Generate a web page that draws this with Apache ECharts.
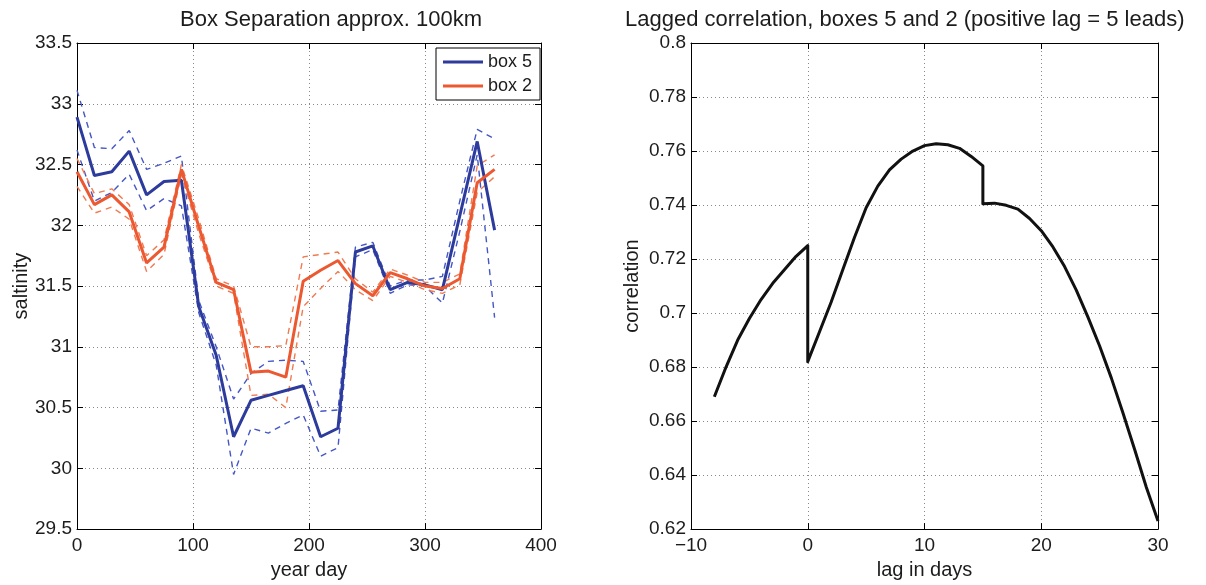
<!DOCTYPE html>
<html>
<head>
<meta charset="utf-8">
<script src="https://cdn.jsdelivr.net/npm/echarts@6/dist/echarts.min.js"></script>
<style>
  html, body { margin: 0; padding: 0; background: #fff; }
  #chart { width: 1206px; height: 585px; }
</style>
</head>
<body>
<div id="chart"></div>
<script>
// Year day of each salinity sample (15-day spacing)
const yearDays = [0, 15, 30, 45, 60, 75, 90, 105, 120, 135, 150, 165, 180,
                  195, 210, 225, 240, 255, 270, 285, 300, 315, 330, 345, 360];

// Box 5 salinity: mean and upper / lower bounds
const box5   = [32.89, 32.41, 32.44, 32.61, 32.25, 32.36, 32.37, 31.33, 30.93, 30.26, 30.56, 30.60, 30.64,
                30.68, 30.26, 30.33, 31.78, 31.83, 31.47, 31.53, 31.51, 31.47, 32.08, 32.69, 31.96];
const box5Hi = [33.11, 32.64, 32.63, 32.78, 32.46, 32.51, 32.57, 31.38, 31.00, 30.57, 30.78, 30.88, 30.89,
                30.88, 30.47, 30.48, 31.82, 31.86, 31.50, 31.55, 31.55, 31.58, 32.20, 32.79, 32.71];
const box5Lo = [32.62, 32.20, 32.27, 32.42, 32.12, 32.22, 32.16, 31.28, 30.85, 29.95, 30.33, 30.29, 30.37,
                30.44, 30.10, 30.17, 31.74, 31.80, 31.44, 31.51, 31.50, 31.36, 31.95, 32.58, 31.24];

// Box 2 salinity: mean and upper / lower bounds
const box2   = [32.44, 32.17, 32.25, 32.11, 31.69, 31.82, 32.46, 31.99, 31.53, 31.47, 30.79, 30.80, 30.75,
                31.54, 31.63, 31.71, 31.52, 31.42, 31.61, 31.56, 31.50, 31.48, 31.56, 32.35, 32.46];
const box2Hi = [32.55, 32.26, 32.30, 32.17, 31.75, 31.88, 32.50, 32.05, 31.56, 31.50, 31.00, 31.00, 31.01,
                31.74, 31.76, 31.78, 31.56, 31.45, 31.64, 31.59, 31.53, 31.53, 31.60, 32.49, 32.58];
const box2Lo = [32.32, 32.10, 32.15, 32.05, 31.62, 31.76, 32.42, 31.93, 31.50, 31.44, 30.60, 30.61, 30.50,
                31.33, 31.48, 31.62, 31.47, 31.38, 31.58, 31.53, 31.47, 31.44, 31.51, 32.27, 32.40];

// Lagged correlation between boxes 5 and 2 (repeated lags mark the jumps)
const lagDays = [-8, -7, -6, -5, -4, -3, -2, -1, 0,
                 0, 1, 2, 3, 4, 5, 6, 7, 8, 9, 10, 11, 12, 13, 14, 15,
                 15, 16, 17, 18, 19, 20, 21, 22, 23, 24, 25, 26, 27, 28, 29, 30];
const lagCorr = [0.669, 0.680, 0.690, 0.698, 0.705, 0.711, 0.716, 0.721, 0.725,
                 0.682, 0.693, 0.704, 0.716, 0.728, 0.739, 0.747, 0.753, 0.757, 0.760, 0.762, 0.7627, 0.7623, 0.761, 0.758, 0.7545,
                 0.7405, 0.7407, 0.7399, 0.7385, 0.7350, 0.7305, 0.7245, 0.7172, 0.7085, 0.6985, 0.6878, 0.6760, 0.6630, 0.6495, 0.6355, 0.6230];

// Axis ranges and tick steps
const salinityAxis = { min: 29.5, max: 33.5, step: 0.5 };
const dayAxis = { min: 0, max: 400, step: 100 };
const corrAxis = { min: 0.62, max: 0.8, step: 0.02 };
const lagAxis = { min: -10, max: 30, step: 10 };

const FONT = 'Liberation Sans, Arial, Helvetica, sans-serif';
const TXT = '#1c1c1c';
const BLUE = '#2c3b9c';
const BLUE_D = '#4557c4';
const ORANGE = '#ec5830';
const ORANGE_D = '#f07a52';

const pairs = (xs, ys) => xs.map((x, i) => [x, ys[i]]);
const minus = v => String(v).replace('-', '\u2212');

function mainAxis(range, pos, gridIndex, name, nameGap, isY) {
  return {
    type: 'value', gridIndex, position: pos,
    min: range.min, max: range.max, interval: range.step,
    name, nameLocation: 'middle', nameGap,
    nameTextStyle: { fontFamily: FONT, fontSize: 20, color: TXT },
    axisLine: { show: true, onZero: false, lineStyle: { color: '#000', width: 1 } },
    axisTick: { show: true, inside: true, length: 6, lineStyle: { color: '#000' } },
    axisLabel: { show: true, fontFamily: FONT, fontSize: 19, color: TXT, margin: isY ? 5 : 7, formatter: minus },
    splitLine: { show: true, lineStyle: { color: '#8a8a8a', width: 1, type: [1, 3] } }
  };
}
function mirrorAxis(range, pos, gridIndex) {
  return {
    type: 'value', gridIndex, position: pos,
    min: range.min, max: range.max, interval: range.step,
    axisLine: { show: true, onZero: false, lineStyle: { color: '#000', width: 1 } },
    axisTick: { show: true, inside: true, length: 6, lineStyle: { color: '#000' } },
    axisLabel: { show: false },
    splitLine: { show: false }
  };
}

const salLine = (name, data, color, width, dashed, z) => ({
  name, type: 'line', xAxisIndex: 0, yAxisIndex: 0,
  data: pairs(yearDays, data), symbol: 'none', animation: false, z,
  lineStyle: { color, width, type: dashed ? [6, 5] : 'solid' },
  itemStyle: { color }
});

const chart = echarts.init(document.getElementById('chart'), null, { renderer: 'canvas' });
chart.setOption({
  backgroundColor: '#fff',
  animation: false,
  title: [
    { text: 'Box Separation approx. 100km', left: 175, top: 4,
      textStyle: { fontFamily: FONT, fontSize: 22, fontWeight: 'normal', color: TXT } },
    { text: 'Lagged correlation, boxes 5 and 2 (positive lag = 5 leads)', left: 620, top: 4,
      textStyle: { fontFamily: FONT, fontSize: 22, fontWeight: 'normal', color: TXT } }
  ],
  legend: {
    data: [{ name: 'box 5', icon: 'rect' }, { name: 'box 2', icon: 'rect' }],
    left: 436, top: 48, orient: 'vertical',
    itemWidth: 40, itemHeight: 3, itemGap: 4,
    padding: [4, 8, 4, 7],
    backgroundColor: '#fff', borderColor: '#000', borderWidth: 1,
    textStyle: { fontFamily: FONT, fontSize: 18, color: TXT, lineHeight: 20 }
  },
  grid: [
    { left: 77, top: 43, width: 464, height: 492 },
    { left: 691, top: 43, width: 467, height: 494 }
  ],
  xAxis: [
    mainAxis(dayAxis, 'bottom', 0, 'year day', 25, false),
    mainAxis(lagAxis, 'bottom', 1, 'lag in days', 25, false),
    mirrorAxis(dayAxis, 'top', 0),
    mirrorAxis(lagAxis, 'top', 1)
  ],
  yAxis: [
    mainAxis(salinityAxis, 'left', 0, 'saltinity', 46, true),
    mainAxis(corrAxis, 'left', 1, 'correlation', 49, true),
    mirrorAxis(salinityAxis, 'right', 0),
    mirrorAxis(corrAxis, 'right', 1)
  ],
  series: [
    salLine('box 5 upper', box5Hi, BLUE_D, 1.4, true, 2),
    salLine('box 5 lower', box5Lo, BLUE_D, 1.4, true, 2),
    salLine('box 2 upper', box2Hi, ORANGE_D, 1.4, true, 2),
    salLine('box 2 lower', box2Lo, ORANGE_D, 1.4, true, 2),
    salLine('box 5', box5, BLUE, 3, false, 3),
    salLine('box 2', box2, ORANGE, 3, false, 4),
    {
      name: 'correlation', type: 'line', xAxisIndex: 1, yAxisIndex: 1,
      data: pairs(lagDays, lagCorr), symbol: 'none', animation: false,
      smooth: false,
      lineStyle: { color: '#111', width: 3, join: 'round' }
    }
  ]
});
</script>
</body>
</html>
